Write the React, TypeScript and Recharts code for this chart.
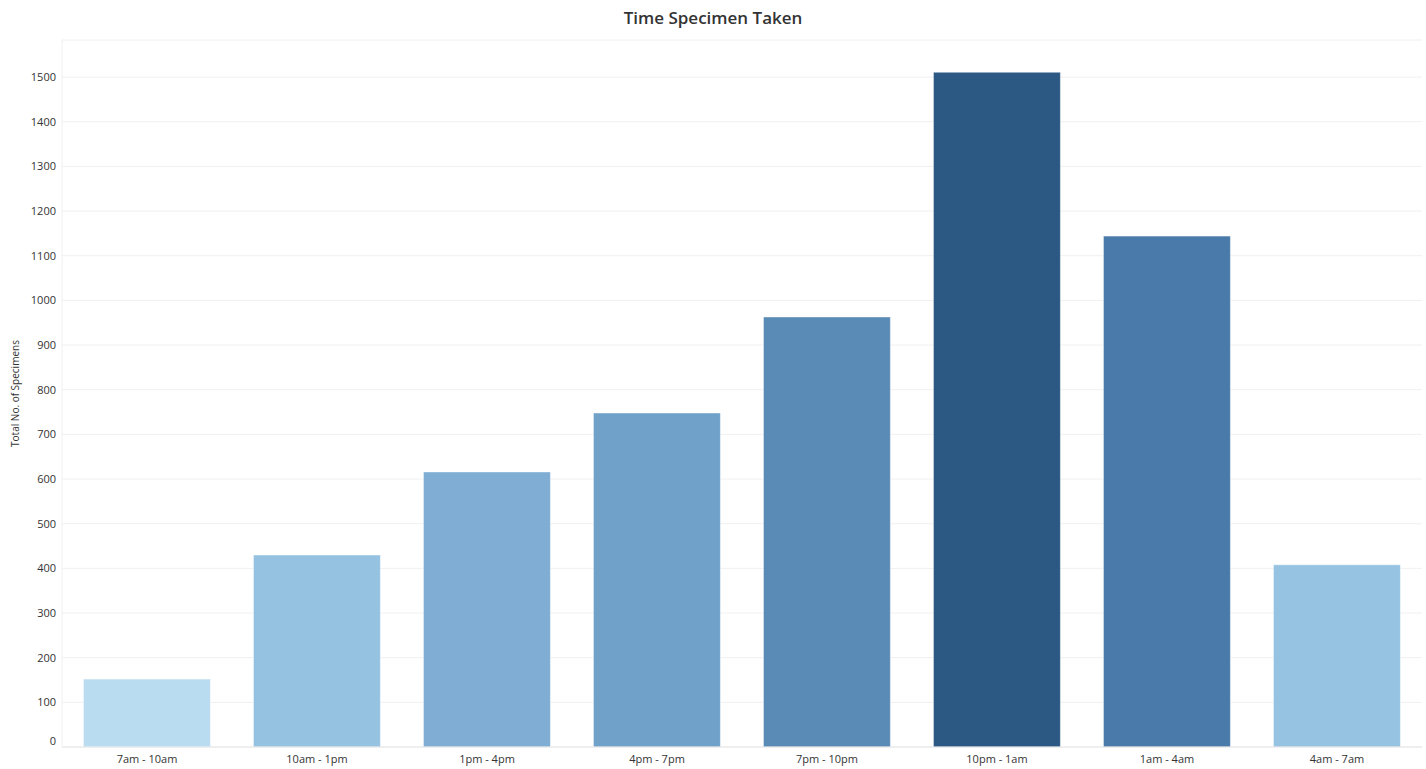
import { BarChart, Bar, Cell, XAxis, YAxis, CartesianGrid } from "recharts";

const timeSlots = [
    "7am - 10am",
    "10am - 1pm",
    "1pm - 4pm",
    "4pm - 7pm",
    "7pm - 10pm",
    "10pm - 1am",
    "1am - 4am",
    "4am - 7am"
];

const specimenCounts = [152, 430, 616, 748, 963, 1511, 1144, 408];

const barColors = [
    "#b9dcf0",
    "#95c2e1",
    "#7fadd4",
    "#70a1c9",
    "#5a8bb6",
    "#2c5884",
    "#4a7aa9",
    "#96c3e2"
];

const yTicks = [0, 100, 200, 300, 400, 500, 600, 700, 800, 900, 1000, 1100, 1200, 1300, 1400, 1500];

const FONT = "'Open Sans', 'Noto Sans', sans-serif";

// Tableau nudges the zero label up so it sits above the axis line
function YTick({ x, y, payload }: any) {
    const shift = payload.value === 0 ? -6 : 0;
    return (
        <text
            x={x}
            y={y + shift}
            dy="0.355em"
            textAnchor="end"
            fontSize={11}
            fill="#333333"
            fontFamily={FONT}
        >
            {payload.value}
        </text>
    );
}

function App() {
    const chartData = timeSlots.map((slot, i) => ({
        slot,
        count: specimenCounts[i]
    }));

    return (
        <div style={{ position: "relative", width: 1426, height: 769, fontFamily: FONT }}>
            <style>{"body { margin: 0; }"}</style>
            <div style={{
                position: "absolute",
                top: 6,
                left: 0,
                width: 1426,
                textAlign: "center",
                fontSize: 17,
                fontWeight: 600,
                color: "#333333"
            }}>
                Time Specimen Taken
            </div>

            <BarChart
                width={1426}
                height={769}
                data={chartData}
                margin={{ top: 40, right: 4, bottom: 0, left: 0 }}
                barCategoryGap="12.6%"
            >
                <CartesianGrid horizontal={true} vertical={false} stroke="#f0f0f0" />
                <XAxis
                    dataKey="slot"
                    height={22}
                    tickLine={false}
                    axisLine={{ stroke: "#e6e6e6" }}
                    tick={{ fontSize: 11, fill: "#333333", fontFamily: FONT }}
                    tickMargin={2}
                    interval={0}
                />
                <YAxis
                    width={62}
                    domain={[0, 1583]}
                    ticks={yTicks}
                    tickLine={false}
                    tickSize={0}
                    tickMargin={6}
                    axisLine={{ stroke: "#f0f0f0" }}
                    tick={<YTick />}
                    label={{
                        value: "Total No. of Specimens",
                        angle: -90,
                        position: "insideLeft",
                        dx: 10,
                        style: { textAnchor: "middle", fontSize: 10, fill: "#333333", fontFamily: FONT }
                    }}
                />
                <Bar dataKey="count" isAnimationActive={false} stroke="#ffffff" strokeOpacity={0.5} strokeWidth={1}>
                    {chartData.map((entry, i) => (
                        <Cell key={entry.slot} fill={barColors[i]} />
                    ))}
                </Bar>
            </BarChart>
        </div>
    );
}

export default App;
